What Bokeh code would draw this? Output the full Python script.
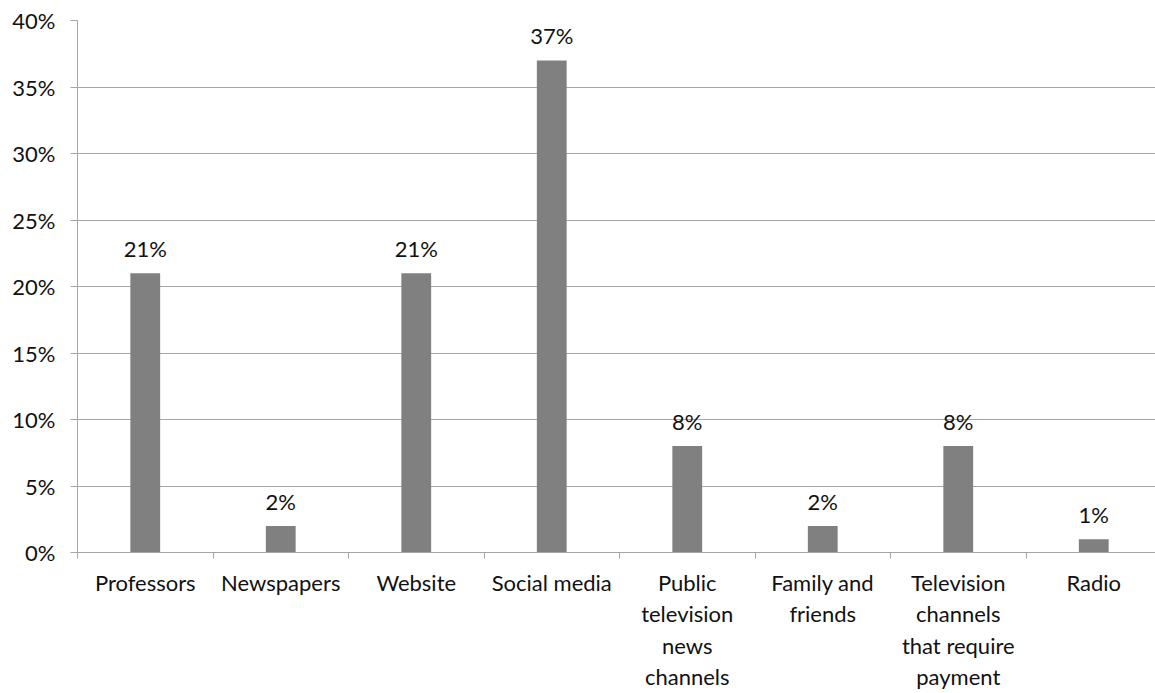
from bokeh.plotting import figure
from bokeh.models import Range1d, FixedTicker, ColumnDataSource, NumeralTickFormatter
from bokeh.core.properties import value
from bokeh.embed import file_html
from bokeh.resources import INLINE

categories = ["Professors", "Newspapers", "Website", "Social media",
              "Public\ntelevision\nnews\nchannels", "Family and\nfriends",
              "Television\nchannels\nthat require\npayment", "Radio"]
values = [0.21, 0.02, 0.21, 0.37, 0.08, 0.02, 0.08, 0.01]
labels = ["21%", "2%", "21%", "37%", "8%", "2%", "8%", "1%"]
y_ticks = [0, 0.05, 0.10, 0.15, 0.20, 0.25, 0.30, 0.35, 0.40]

FONT = "Lato"
FS = "22px"
n = len(categories)
centers = [i + 0.5 for i in range(n)]

src = ColumnDataSource(dict(x=centers, top=values, label=labels))

p = figure(width=1155, height=693, output_backend="svg", toolbar_location=None,
           x_range=Range1d(0, n * 1078 / 1084), y_range=Range1d(0, 0.40),
           min_border_left=77, min_border_right=0, min_border_top=20, min_border_bottom=138)
p.outline_line_color = None
p.background_fill_color = "white"

p.vbar(x="x", top="top", width=0.22, source=src, fill_color="#808080", line_color=None)
p.text(x="x", y="top", text="label", source=src, text_align="center", text_baseline="bottom",
       y_offset=-11, text_font=value(FONT), text_font_size=FS, text_color="#111111")

# grid
p.xgrid.grid_line_color = None
p.ygrid.ticker = FixedTicker(ticks=y_ticks)
p.ygrid.grid_line_color = "#a6a6a6"
p.ygrid.grid_line_width = 1

# y axis
ya = p.yaxis[0]
ya.ticker = FixedTicker(ticks=y_ticks)
ya.formatter = NumeralTickFormatter(format="0%")
ya.axis_line_color = "#a6a6a6"
ya.major_tick_line_color = "#a6a6a6"
ya.major_tick_out = 7
ya.major_tick_in = 0
ya.minor_tick_line_color = None
ya.major_label_standoff = 15
ya.major_label_text_font = FONT
ya.major_label_text_font_size = FS
ya.major_label_text_color = "#111111"

# x axis
xa = p.xaxis[0]
xa.ticker = FixedTicker(ticks=centers, minor_ticks=list(range(n + 1)))
xa.major_label_overrides = {c: lab for c, lab in zip(centers, categories)}
xa.axis_line_color = "#a6a6a6"
xa.major_tick_line_color = None
xa.minor_tick_line_color = "#a6a6a6"
xa.minor_tick_out = 6
xa.minor_tick_in = 0
xa.major_label_standoff = 10
xa.major_label_text_font = FONT
xa.major_label_text_font_size = FS
xa.major_label_text_color = "#111111"
xa.major_label_text_line_height = 1.17

open("out.html", "w").write(file_html(p, INLINE))
